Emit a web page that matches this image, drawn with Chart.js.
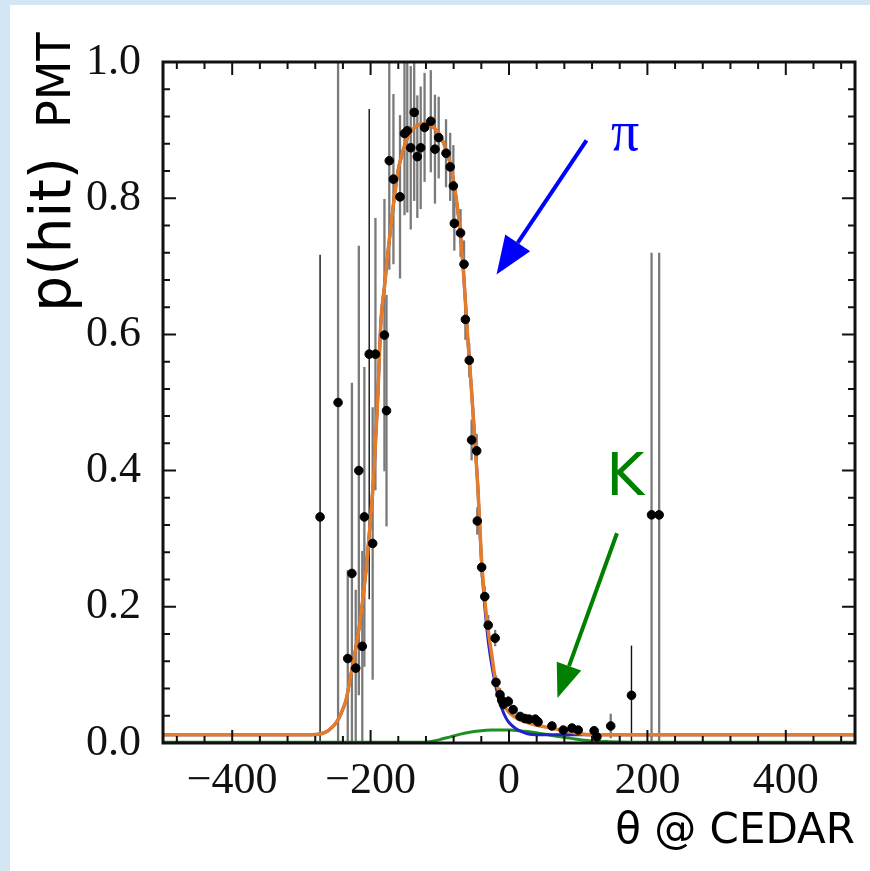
<!DOCTYPE html>
<html>
<head>
<meta charset="utf-8">
<script src="https://cdn.jsdelivr.net/npm/chart.js@4.4.0/dist/chart.umd.min.js"></script>
<style>
  html, body { margin: 0; padding: 0; background: #d3e6f4; }
  #panel { position: absolute; left: 10px; top: 5px; width: 860px; height: 866px; background: #fff; }
  #wrap { position: absolute; left: 0; top: 0; width: 870px; height: 871px; }
</style>
</head>
<body>
<div id="panel"></div>
<div id="wrap"><canvas id="chart" width="870" height="871"></canvas></div>
<script>
// measured points: theta @ CEDAR, p(hit), error
const thetaPts = [-273, -247, -233, -227, -221.5, -217, -212, -209, -202, -197, -193, -180, -177, -173, -167, -157.5, -151, -147, -142, -137, -132.5, -127.6, -122, -113, -107, -101.6, -91, -85, -80.4, -79, -70, -65, -63, -57.4, -54, -46.7, -45.8, -39.5, -35, -30, -20, -18.8, -13, -10.6, -8, -1, 6, 16, 23, 29, 38, 42, 62, 78.5, 91, 100, 123, 127, 147, 177, 206, 217];
const pHit = [0.332, 0.50, 0.124, 0.249, 0.110, 0.400, 0.142, 0.332, 0.571, 0.293, 0.571, 0.599, 0.488, 0.855, 0.828, 0.802, 0.895, 0.899, 0.874, 0.926, 0.861, 0.874, 0.904, 0.913, 0.872, 0.889, 0.866, 0.846, 0.818, 0.763, 0.749, 0.703, 0.622, 0.562, 0.445, 0.429, 0.326, 0.258, 0.215, 0.173, 0.154, 0.089, 0.071, 0.063, 0.057, 0.061, 0.049, 0.039, 0.036, 0.035, 0.035, 0.031, 0.025, 0.019, 0.022, 0.019, 0.018, 0.009, 0.025, 0.070, 0.335, 0.335];
const pErr = [0.385, 0.55, 0.13, 0.28, 0.115, 0.33, 0.14, 0.22, 0.36, 0.2, 0.2, 0.2, 0.17, 0.16, 0.125, 0.12, 0.12, 0.12, 0.12, 0.13, 0.09, 0.09, 0.08, 0.075, 0.08, 0.06, 0.05, 0.05, 0.06, 0.04, 0.035, 0.035, 0.03, 0.025, 0.03, 0.025, 0.02, 0.015, 0.015, 0.015, 0.012, 0.01, 0.01, 0.008, 0.008, 0.008, 0.007, 0.006, 0.006, 0.006, 0.006, 0.006, 0.005, 0.005, 0.005, 0.005, 0.005, 0.005, 0.018, 0.073, 0.385, 0.385];

// fit curves
const totalX = [-500, -300, -275, -265, -259, -252, -246, -240, -235, -230, -225, -220, -215, -210, -205, -200, -195, -190, -185, -180, -175, -170, -165, -160, -155, -150, -145, -140, -135, -130, -125, -120, -115, -110, -105, -100, -95, -90, -85, -80, -75, -70, -65, -60, -55, -50, -45, -40, -35, -30, -25, -20, -15, -10, -5, 0, 10, 20, 30, 45, 60, 80, 100, 120, 140, 500];
const totalY = [0.012, 0.012, 0.013, 0.016, 0.02, 0.027, 0.036, 0.05, 0.065, 0.092, 0.118, 0.148, 0.18, 0.222, 0.27, 0.33, 0.40, 0.50, 0.62, 0.67, 0.72, 0.765, 0.807, 0.842, 0.863, 0.88, 0.893, 0.9, 0.905, 0.908, 0.909, 0.909, 0.907, 0.905, 0.9, 0.893, 0.882, 0.868, 0.851, 0.824, 0.79, 0.745, 0.68, 0.6, 0.53, 0.455, 0.375, 0.275, 0.21, 0.165, 0.13, 0.095, 0.077, 0.062, 0.052, 0.045, 0.037, 0.032, 0.029, 0.025, 0.022, 0.018, 0.014, 0.012, 0.012, 0.012];
const pionX = [-500, -300, -275, -265, -259, -252, -246, -240, -235, -230, -225, -220, -215, -210, -205, -200, -195, -190, -185, -180, -175, -170, -165, -160, -155, -150, -145, -140, -135, -130, -125, -120, -115, -110, -105, -100, -95, -90, -85, -80, -75, -70, -65, -60, -55, -50, -45, -40, -35, -30, -25, -20, -15, -10, -5, 0, 10, 20, 30, 50, 500];
const pionY = [0.012, 0.012, 0.013, 0.016, 0.02, 0.027, 0.036, 0.05, 0.065, 0.092, 0.118, 0.148, 0.18, 0.222, 0.27, 0.33, 0.40, 0.50, 0.62, 0.67, 0.72, 0.765, 0.807, 0.842, 0.863, 0.88, 0.893, 0.9, 0.905, 0.908, 0.909, 0.909, 0.907, 0.905, 0.9, 0.893, 0.882, 0.868, 0.851, 0.824, 0.79, 0.745, 0.68, 0.6, 0.53, 0.455, 0.375, 0.27, 0.2, 0.15, 0.115, 0.088, 0.066, 0.05, 0.038, 0.03, 0.021, 0.016, 0.013, 0.012, 0.012];
const kaonX = [-500, -130, -115, -100, -85, -70, -55, -40, -25, -10, 0, 15, 30, 45, 60, 75, 90, 105, 120, 145, 200, 500];
const kaonY = [0.001, 0.001, 0.002, 0.005, 0.009, 0.013, 0.016, 0.018, 0.019, 0.0192, 0.019, 0.018, 0.0166, 0.014, 0.0115, 0.009, 0.0068, 0.0045, 0.003, 0.002, 0.001, 0.001];

const xTickVals = [-400, -200, 0, 200, 400];
const yTickVals = [0, 0.2, 0.4, 0.6, 0.8, 1.0];

const toXY = (xs, ys) => xs.map((x, i) => ({ x, y: ys[i] }));

const SERIF = '"Liberation Serif", "Times New Roman", serif';
const SANS = '"DejaVu Sans", sans-serif';

const errorBars = {
  id: 'errorBars',
  beforeDatasetsDraw(chart) {
    const { ctx, chartArea: a, scales: { x, y } } = chart;
    ctx.save();
    ctx.beginPath();
    ctx.rect(a.left, a.top, a.right - a.left, a.bottom - a.top);
    ctx.clip();
    thetaPts.forEach((t, i) => {
      const dark = [-273, -202, 177].includes(t);
      ctx.strokeStyle = dark ? '#111' : '#7a7a7a';
      ctx.lineWidth = dark ? 1.4 : 2.3;
      const px = x.getPixelForValue(t);
      ctx.beginPath();
      ctx.moveTo(px, y.getPixelForValue(pHit[i] - pErr[i]));
      ctx.lineTo(px, y.getPixelForValue(pHit[i] + pErr[i]));
      ctx.stroke();
    });
    ctx.restore();
  },
};

function arrow(ctx, x0, y0, x1, y1, color, width, headLen, headHalf) {
  const ang = Math.atan2(y1 - y0, x1 - x0);
  const bx = x1 - headLen * Math.cos(ang);
  const by = y1 - headLen * Math.sin(ang);
  ctx.strokeStyle = color;
  ctx.fillStyle = color;
  ctx.lineWidth = width;
  ctx.beginPath();
  ctx.moveTo(x0, y0);
  ctx.lineTo(bx, by);
  ctx.stroke();
  ctx.beginPath();
  ctx.moveTo(x1, y1);
  ctx.lineTo(bx + headHalf * Math.sin(ang), by - headHalf * Math.cos(ang));
  ctx.lineTo(bx - headHalf * Math.sin(ang), by + headHalf * Math.cos(ang));
  ctx.closePath();
  ctx.fill();
}

const frameAndNotes = {
  id: 'frameAndNotes',
  afterDatasetsDraw(chart) {
    const { ctx, chartArea: a, scales: { x, y } } = chart;
    ctx.save();
    // inward ticks on all four sides
    ctx.strokeStyle = '#111';
    ctx.lineWidth = 2;
    for (let v = -480; v <= 480; v += 40) {
      const px = x.getPixelForValue(v);
      const len = v % 200 === 0 ? 13 : 7;
      ctx.beginPath();
      ctx.moveTo(px, a.bottom); ctx.lineTo(px, a.bottom - len);
      ctx.moveTo(px, a.top); ctx.lineTo(px, a.top + len);
      ctx.stroke();
    }
    for (let k = 1; k < 25; k++) {
      const py = y.getPixelForValue(k * 0.04);
      const len = k % 5 === 0 ? 13 : 7;
      ctx.beginPath();
      ctx.moveTo(a.left, py); ctx.lineTo(a.left + len, py);
      ctx.moveTo(a.right, py); ctx.lineTo(a.right - len, py);
      ctx.stroke();
    }
    ctx.lineWidth = 3;
    ctx.strokeRect(a.left, a.top, a.right - a.left, a.bottom - a.top);

    // annotations
    const P = (vx, vy) => [x.getPixelForValue(vx), y.getPixelForValue(vy)];
    let [sx, sy] = P(112, 0.885);
    let [tx, ty] = P(-18, 0.688);
    arrow(ctx, sx, sy, tx, ty, '#0000ff', 4, 38, 15);
    [sx, sy] = P(156, 0.308);
    [tx, ty] = P(70, 0.066);
    arrow(ctx, sx, sy, tx, ty, '#008000', 4, 34, 13);

    ctx.textAlign = 'center';
    ctx.textBaseline = 'alphabetic';
    ctx.fillStyle = '#0000ff';
    ctx.font = '56px ' + SERIF;
    let [lx, ly] = P(168, 0.871);
    ctx.fillText('\u03c0', lx, ly);
    ctx.fillStyle = '#008000';
    ctx.font = '58px ' + SANS;
    [lx, ly] = P(168, 0.364);
    ctx.fillText('K', lx, ly);

    // axis titles
    ctx.fillStyle = '#000';
    ctx.textAlign = 'right';
    ctx.font = '42px ' + SANS;
    ctx.fillText('\u03b8 @ CEDAR', a.right, 843);

    ctx.translate(70, 312);
    ctx.rotate(-Math.PI / 2);
    ctx.textAlign = 'left';
    ctx.font = '57px ' + SANS;
    ctx.fillText('p(hit)', 0, 0);
    ctx.font = '46px ' + SANS;
    ctx.fillText('PMT', 184, 0);
    ctx.restore();
  },
};

const chart = new Chart(document.getElementById('chart'), {
  type: 'scatter',
  data: {
    datasets: [
      {
        label: 'data',
        data: toXY(thetaPts, pHit),
        backgroundColor: '#000',
        borderColor: '#000',
        pointRadius: 4.3,
        order: 0,
      },
      {
        label: 'total',
        data: toXY(totalX, totalY),
        showLine: true,
        borderColor: '#e27d2b',
        borderWidth: 3.5,
        pointRadius: 0,
        cubicInterpolationMode: 'monotone',
        order: 1,
      },
      {
        label: 'pi',
        data: toXY(pionX, pionY),
        showLine: true,
        borderColor: '#2222cc',
        borderWidth: 3,
        pointRadius: 0,
        cubicInterpolationMode: 'monotone',
        order: 2,
      },
      {
        label: 'K',
        data: toXY(kaonX, kaonY),
        showLine: true,
        borderColor: '#1f8f22',
        borderWidth: 3,
        pointRadius: 0,
        cubicInterpolationMode: 'monotone',
        order: 3,
      },
    ],
  },
  options: {
    responsive: false,
    animation: false,
    layout: { padding: { top: 62, right: 15, bottom: 68, left: 0 } },
    plugins: { legend: { display: false }, tooltip: { enabled: false } },
    scales: {
      x: {
        type: 'linear',
        min: -500,
        max: 500,
        grid: { display: false },
        border: { display: false },
        afterBuildTicks: (s) => { s.ticks = xTickVals.map((v) => ({ value: v })); },
        afterFit: (s) => { s.height = 60; },
        ticks: {
          autoSkip: false,
          maxRotation: 0,
          padding: 4,
          color: '#111',
          font: { family: SERIF, size: 44 },
          callback: (v) => (v < 0 ? '\u2212' + Math.abs(v) : String(v)),
        },
      },
      y: {
        type: 'linear',
        min: 0,
        max: 1,
        grid: { display: false },
        border: { display: false },
        afterBuildTicks: (s) => { s.ticks = yTickVals.map((v) => ({ value: v })); },
        afterFit: (s) => { s.width = 163; },
        ticks: {
          padding: 14,
          color: '#111',
          font: { family: SERIF, size: 44 },
          callback: (v) => v.toFixed(1),
        },
      },
    },
  },
  plugins: [errorBars, frameAndNotes],
});
</script>
</body>
</html>
